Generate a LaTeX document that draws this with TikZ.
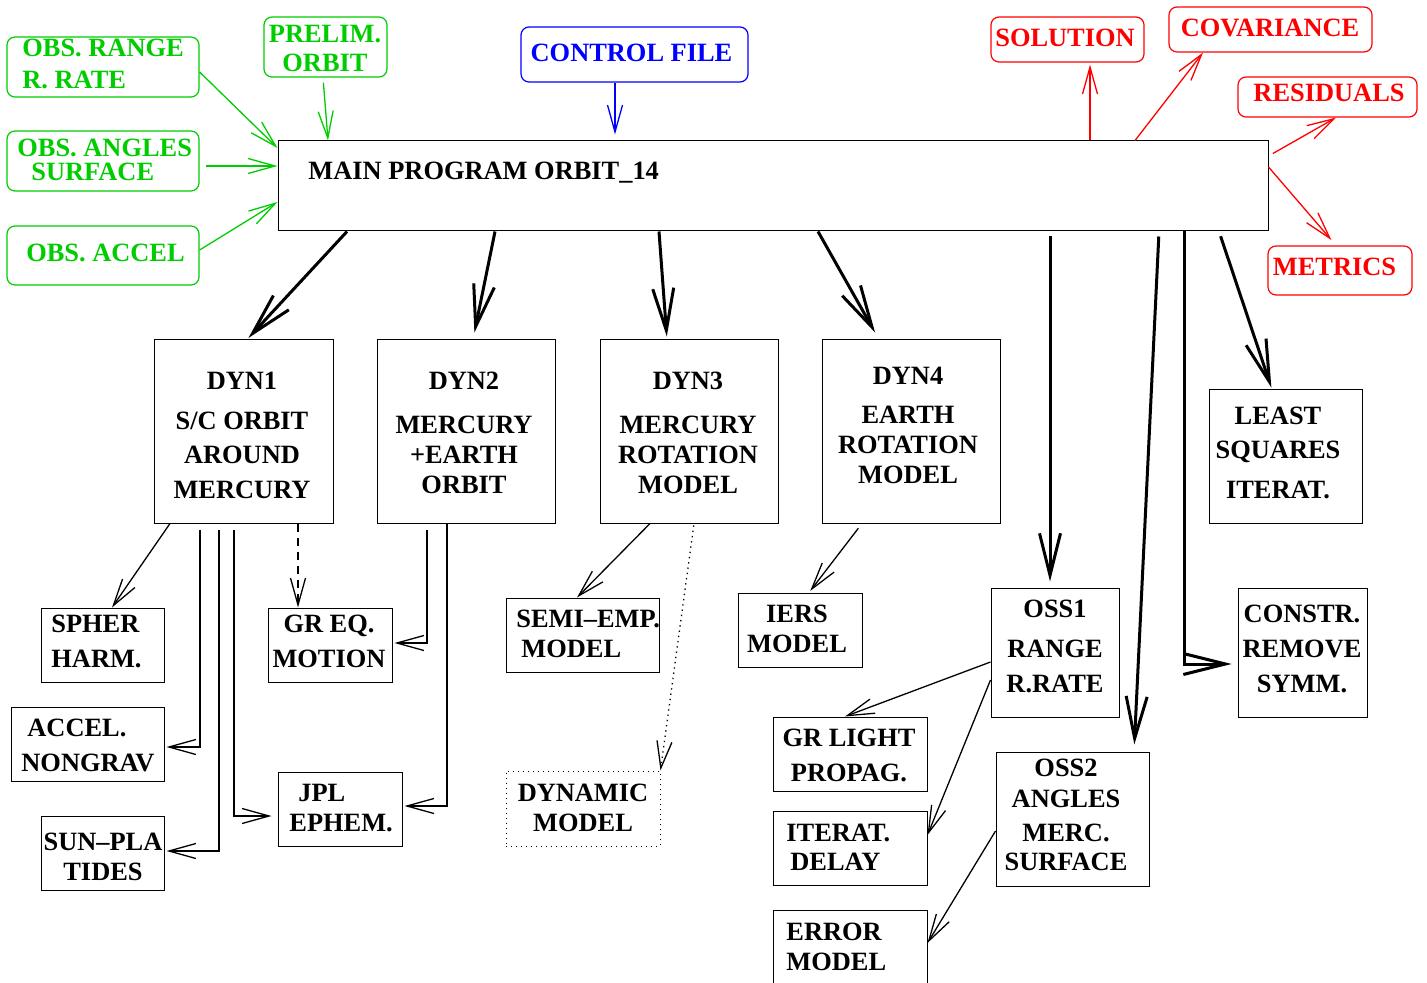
\documentclass[tikz,border=0pt]{standalone}
\usepackage{fontspec}
\setmainfont{Liberation Serif}
\usetikzlibrary{arrows.meta}
\definecolor{cgreen}{RGB}{0,205,0}
\definecolor{cred}{RGB}{255,0,0}
\definecolor{cblue}{RGB}{0,0,255}
\newcommand\ftb{\fontsize{13.2}{16}\selectfont\bfseries}
\tikzset{
  bx/.style={draw, line width=0.5pt, inner sep=0pt},
  gbx/.style={draw=cgreen, rounded corners=4pt, line width=0.6pt, inner sep=0pt},
  rbx/.style={draw=cred, rounded corners=4pt, line width=0.6pt, inner sep=0pt},
  bbx/.style={draw=cblue, rounded corners=4pt, line width=0.6pt, inner sep=0pt},
  t/.style={font=\ftb, inner sep=0pt, align=center},
  tl/.style={font=\ftb, inner sep=0pt, align=left, anchor=west},
  thinarr/.style={line width=0.65pt, -{Straight Barb[length=13.5pt,width=7.5pt]}},
  thickarr/.style={line width=1.5pt, -{Straight Barb[length=21pt,width=10.5pt]}},
}
\begin{document}
\begin{tikzpicture}[x=0.5pt,y=-0.5pt]
\path[use as bounding box] (0,0) rectangle (1427,983);
\clip (0,0) rectangle (1427,983);
\fill[white] (0,0) rectangle (1427,983);

% main
\node[bx, minimum width=495pt, minimum height=45pt] (main) at (773,186) {};
\node[tl] (mainT) at (308,172.5) {MAIN PROGRAM ORBIT\_14};

% green inputs
\node[gbx, minimum width=96pt, minimum height=30pt] (obsr) at (103,67) {};
\node[tl, text=cgreen] (obsrT) at (22,63.75) {OBS. RANGE\\R. RATE};
\node[gbx, minimum width=61.5pt, minimum height=30pt] (prelim) at (325.5,47) {};
\node[t, text=cgreen] (prelimT) at (325,48) {PRELIM.\\[-1.5pt]ORBIT};
\node[gbx, minimum width=96pt, minimum height=30pt] (obsa) at (103,161) {};
\node[tl, text=cgreen] (obsaT) at (17,160) {OBS. ANGLES\\[-3.75pt]\hspace{7pt}SURFACE};
\node[gbx, minimum width=96pt, minimum height=29.5pt] (obsacc) at (103,255.5) {};
\node[t, text=cgreen] (obsaccT) at (105.5,252.5) {OBS. ACCEL};

% blue
\node[bbx, minimum width=113.5pt, minimum height=27.5pt] (ctrl) at (634.5,54.5) {};
\node[t, text=cblue] (ctrlT) at (631.5,52.5) {CONTROL FILE};

% red outputs
\node[rbx, minimum width=76.5pt, minimum height=22.5pt] (sol) at (1067.5,39.5) {};
\node[t, text=cred] (solT) at (1065,38) {SOLUTION};
\node[rbx, minimum width=101.5pt, minimum height=22.5pt] (cov) at (1270.5,29.5) {};
\node[t, text=cred] (covT) at (1270,27.5) {COVARIANCE};
\node[rbx, minimum width=89.5pt, minimum height=20pt] (res) at (1327.5,97) {};
\node[t, text=cred] (resT) at (1329,93) {RESIDUALS};
\node[rbx, minimum width=72pt, minimum height=24.5pt] (met) at (1340,270.5) {};
\node[t, text=cred] (metT) at (1334.5,267) {METRICS};

% DYN boxes
\node[bx, minimum width=89.5pt, minimum height=91.5pt] (dyn1) at (243.5,431.5) {};
\node[t] (dyn1T) at (242,435.5) {DYN1\\[4pt]S/C ORBIT\\[1pt]AROUND\\[1.5pt]MERCURY};
\node[bx, minimum width=89pt, minimum height=91.5pt] (dyn2) at (466,431.5) {};
\node[t] (dyn2T) at (464,433) {DYN2\\[6pt]MERCURY\\[-1pt]+EARTH\\[-1pt]ORBIT};
\node[bx, minimum width=89pt, minimum height=91.5pt] (dyn3) at (689,431.5) {};
\node[t] (dyn3T) at (688,433) {DYN3\\[6pt]MERCURY\\[-1pt]ROTATION\\[-1pt]MODEL};
\node[bx, minimum width=89pt, minimum height=91.5pt] (dyn4) at (911,431.5) {};
\node[t] (dyn4T) at (908,425.5) {DYN4\\[3.5pt]EARTH\\[-1pt]ROTATION\\[-1pt]MODEL};
\node[bx, minimum width=76.5pt, minimum height=66.5pt] (least) at (1285.5,456.5) {};
\node[t] (leastT) at (1278,453) {LEAST\\[1pt]SQUARES\\[4pt]ITERAT.};

% lower boxes
\node[bx, minimum width=61.5pt, minimum height=37pt] (spher) at (102.5,645) {};
\node[tl] (spherT) at (51,641.5) {SPHER\\[1.5pt]HARM.};
\node[bx, minimum width=76.5pt, minimum height=37pt] (accel) at (87.5,744) {};
\node[tl] (accelT) at (21,745.5) {\hspace{3pt}ACCEL.\\[1.5pt]NONGRAV};
\node[bx, minimum width=61.5pt, minimum height=37pt] (sunpla) at (102.5,853) {};
\node[t] (sunplaT) at (103,857) {SUN–PLA\\[-1pt]TIDES};
\node[bx, minimum width=62pt, minimum height=37pt] (greq) at (330,645) {};
\node[t] (greqT) at (329,641.5) {GR EQ.\\[1.5pt]MOTION};
\node[bx, minimum width=62pt, minimum height=37pt] (jpl) at (340,809) {};
\node[tl] (jplT) at (289,808) {\hspace{4.5pt}JPL\\[-1pt]EPHEM.};
\node[bx, minimum width=76.5pt, minimum height=37pt] (semi) at (582.5,635) {};
\node[tl] (semiT) at (516,634) {SEMI–EMP.\\[-1pt]\hspace{2.5pt}MODEL};
\node[bx, dotted, minimum width=77pt, minimum height=37.5pt] (dynm) at (583,808.5) {};
\node[t] (dynmT) at (583,808) {DYNAMIC\\[-1pt]MODEL};
\node[bx, minimum width=62pt, minimum height=37pt] (iers) at (800,630) {};
\node[t] (iersT) at (797,629) {IERS\\[-1pt]MODEL};
\node[bx, minimum width=64pt, minimum height=64.5pt] (oss1) at (1055,652.5) {};
\node[t] (oss1T) at (1055,646.5) {OSS1\\[4pt]RANGE\\[1.5pt]R.RATE};
\node[bx, minimum width=77pt, minimum height=37pt] (grl) at (850,754) {};
\node[t] (grlT) at (849,755.5) {GR LIGHT\\[1.5pt]PROPAG.};
\node[bx, minimum width=77pt, minimum height=37pt] (iter) at (850,848) {};
\node[tl] (iterT) at (786,847.5) {ITERAT.\\[-1.5pt]\hspace{2pt}DELAY};
\node[bx, minimum width=77pt, minimum height=40pt] (err) at (850,950) {};
\node[tl] (errT) at (786,947) {ERROR\\[-1pt]MODEL};
\node[bx, minimum width=76.5pt, minimum height=67pt] (oss2) at (1072.5,819) {};
\node[t] (oss2T) at (1066,815) {OSS2\\[-0.5pt]ANGLES\\[1pt]MERC.\\[-1.5pt]SURFACE};
\node[bx, minimum width=64.5pt, minimum height=64.5pt] (constr) at (1302.5,652.5) {};
\node[t] (constrT) at (1302,649) {CONSTR.\\[1.5pt]REMOVE\\[1.5pt]SYMM.};

% green connectors
\draw[thinarr, cgreen] (obsr.east |- 0,72) -- (main.west |- 0,148);
\draw[thinarr, cgreen, shorten <=3pt] (obsa.east |- 0,166) -- (main.west |- 0,166);
\draw[thinarr, cgreen] (obsacc.east |- 0,250) -- (main.west |- 0,202);
\draw[thinarr, cgreen, shorten <=2.5pt] (prelim.south -| 323,0) -- (main.north -| 328,0);
% blue connector
\draw[thinarr, cblue, shorten >=3pt] (ctrl.south -| 615,0) -- (main.north -| 615,0);
% red connectors
\draw[thinarr, cred, shorten >=1pt] (main.north -| 1090,0) -- (sol.south -| 1090,0);
\draw[thinarr, cred] (main.north -| 1135,0) -- (cov.south -| 1203,0);
\draw[thinarr, cred, shorten <=2.5pt] (main.east |- 0,156) -- (res.south -| 1336,0);
\draw[thinarr, cred, shorten >=3.5pt] (main.east |- 0,167) -- (met.north -| 1336,0);

% thick connectors
\draw[thickarr, shorten >=1pt] (main.south -| 347,0) -- (dyn1.north -| 247,0);
\draw[thickarr, shorten >=3.5pt] (main.south -| 495,0) -- (dyn2.north -| 473,0);
\draw[thickarr, shorten >=1.5pt] (main.south -| 659,0) -- (dyn3.north -| 667,0);
\draw[thickarr, shorten >=4pt] (main.south -| 818,0) -- (dyn4.north -| 879,0);
\draw[thickarr, shorten <=2.5pt, shorten >=3pt] (main.south -| 1050,0) -- (oss1.north -| 1050,0);
\draw[thickarr, shorten <=2.5pt, shorten >=3.5pt] (main.south -| 1159,0) -- (oss2.north -| 1134,0);
\draw[thickarr, shorten >=3pt] (main.south -| 1184,0) |- (constr.west |- 0,664);
\draw[thickarr, shorten <=2.5pt, shorten >=1pt] (main.south -| 1219,0) -- (least.north -| 1272,0);

% thin black connectors
\draw[thinarr] (dyn1.south -| 170,0) -- (spher.north -| 112,0);
\draw[thinarr, shorten <=3pt, shorten >=1pt] (dyn1.south -| 200,0) |- (accel.east |- 0,747);
\draw[thinarr, shorten <=3pt, shorten >=1pt] (dyn1.south -| 219,0) |- (sunpla.east |- 0,851);
\draw[thinarr, shorten <=3pt, shorten >=3pt] (dyn1.south -| 234,0) |- (jpl.west |- 0,816);
\draw[thinarr, dash pattern=on 4pt off 3pt] (dyn1.south -| 298,0) -- (greq.north -| 298,0);
\draw[thinarr, shorten <=3pt, shorten >=1pt] (dyn2.south -| 427,0) |- (greq.east |- 0,643);
\draw[thinarr, shorten >=1pt] (dyn2.south -| 447,0) |- (jpl.east |- 0,806);
\draw[thinarr] (dyn3.south -| 650,0) -- (semi.north -| 577,0);
\draw[thinarr, dotted, shorten <=1pt] (dyn3.south -| 694,0) -- (dynm.north east);
\draw[thinarr, shorten <=3pt, shorten >=1pt] (dyn4.south -| 862,0) -- (iers.north -| 809,0);
\draw[thinarr] (oss1.west |- 0,662) -- (grl.north -| 845,0);
\draw[thinarr] (oss1.west |- 0,680) -- (iter.east |- 0,835);
\draw[thinarr] (oss2.west |- 0,831) -- (err.east |- 0,943);
\end{tikzpicture}
\end{document}
